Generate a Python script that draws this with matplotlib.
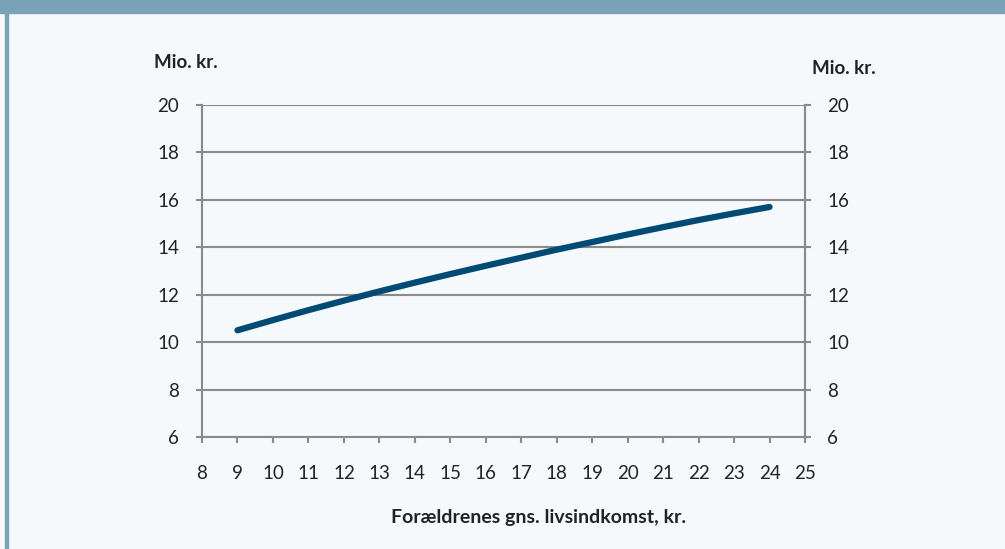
import matplotlib
matplotlib.use("Agg")
import matplotlib.pyplot as plt
from matplotlib.patches import Rectangle

# forældrenes gns. livsindkomst (x) og værdi i mio. kr. (y)
indkomst = [9, 10, 11, 12, 13, 14, 15, 16, 17, 18, 19, 20, 21, 22, 23, 24]
mio_kr = [10.5, 10.93, 11.35, 11.75, 12.14, 12.51, 12.87, 13.22, 13.56,
          13.9, 14.22, 14.54, 14.85, 15.15, 15.43, 15.7]
x_ticks = list(range(8, 26))
y_ticks = [6, 8, 10, 12, 14, 16, 18, 20]

plt.rcParams['font.family'] = ['Lato', 'DejaVu Sans']

bg = '#f5f9fc'
grey = '#8a8a8a'
fig = plt.figure(figsize=(10.05, 5.49), dpi=100, facecolor=bg)

# banner and left border
fig.patches.append(Rectangle((0, 1 - 13 / 549), 1, 13 / 549, transform=fig.transFigure,
                             color='#7ba3b7', zorder=0))
fig.patches.append(Rectangle((5 / 1005, 0), 3 / 1005, 1, transform=fig.transFigure,
                             color='#7ba3b7', zorder=0))

ax = fig.add_axes([202 / 1005, 1 - 437 / 549, 603 / 1005, 332 / 549])
ax.set_facecolor(bg)
ax.plot(indkomst, mio_kr, color='#004a74', lw=4.5, solid_capstyle='round', zorder=3)

ax.set_xlim(8, 25)
ax.set_ylim(6, 20)
ax.set_xticks(x_ticks)
ax.set_yticks(y_ticks)
ax.yaxis.grid(True, color=grey, lw=1.5)
ax.set_axisbelow(True)
ax.spines['top'].set_visible(False)
for s in ['left', 'right', 'bottom']:
    ax.spines[s].set_color(grey)
    ax.spines[s].set_linewidth(1.5)
ax.tick_params(axis='both', colors=grey, width=1.5, length=4.5, labelcolor='#222222',
               labelsize=13.5)
ax.tick_params(axis='y', pad=12)
ax.tick_params(axis='x', pad=15.5)

ax2 = ax.twinx()
ax2.set_ylim(6, 20)
ax2.set_yticks(y_ticks)
for s in ['top', 'left', 'bottom']:
    ax2.spines[s].set_visible(False)
ax2.spines['right'].set_color(grey)
ax2.spines['right'].set_linewidth(1.5)
ax2.tick_params(axis='y', colors=grey, width=1.5, length=4.5, labelcolor='#222222',
                labelsize=13.5, pad=11.5)

fig.text(154 / 1005, 1 - 63 / 549, 'Mio. kr.', fontsize=13.5, fontweight='bold',
         color='#222222', va='center', ha='left')
fig.text(812 / 1005, 1 - 68 / 549, 'Mio. kr.', fontsize=13.5, fontweight='bold',
         color='#222222', va='center', ha='left')
fig.text(539 / 1005, 1 - 518 / 549, 'Forældrenes gns. livsindkomst, kr.', fontsize=14,
         fontweight='bold', color='#222222', va='center', ha='center')

fig.savefig('out.png', dpi=100, facecolor=bg)
